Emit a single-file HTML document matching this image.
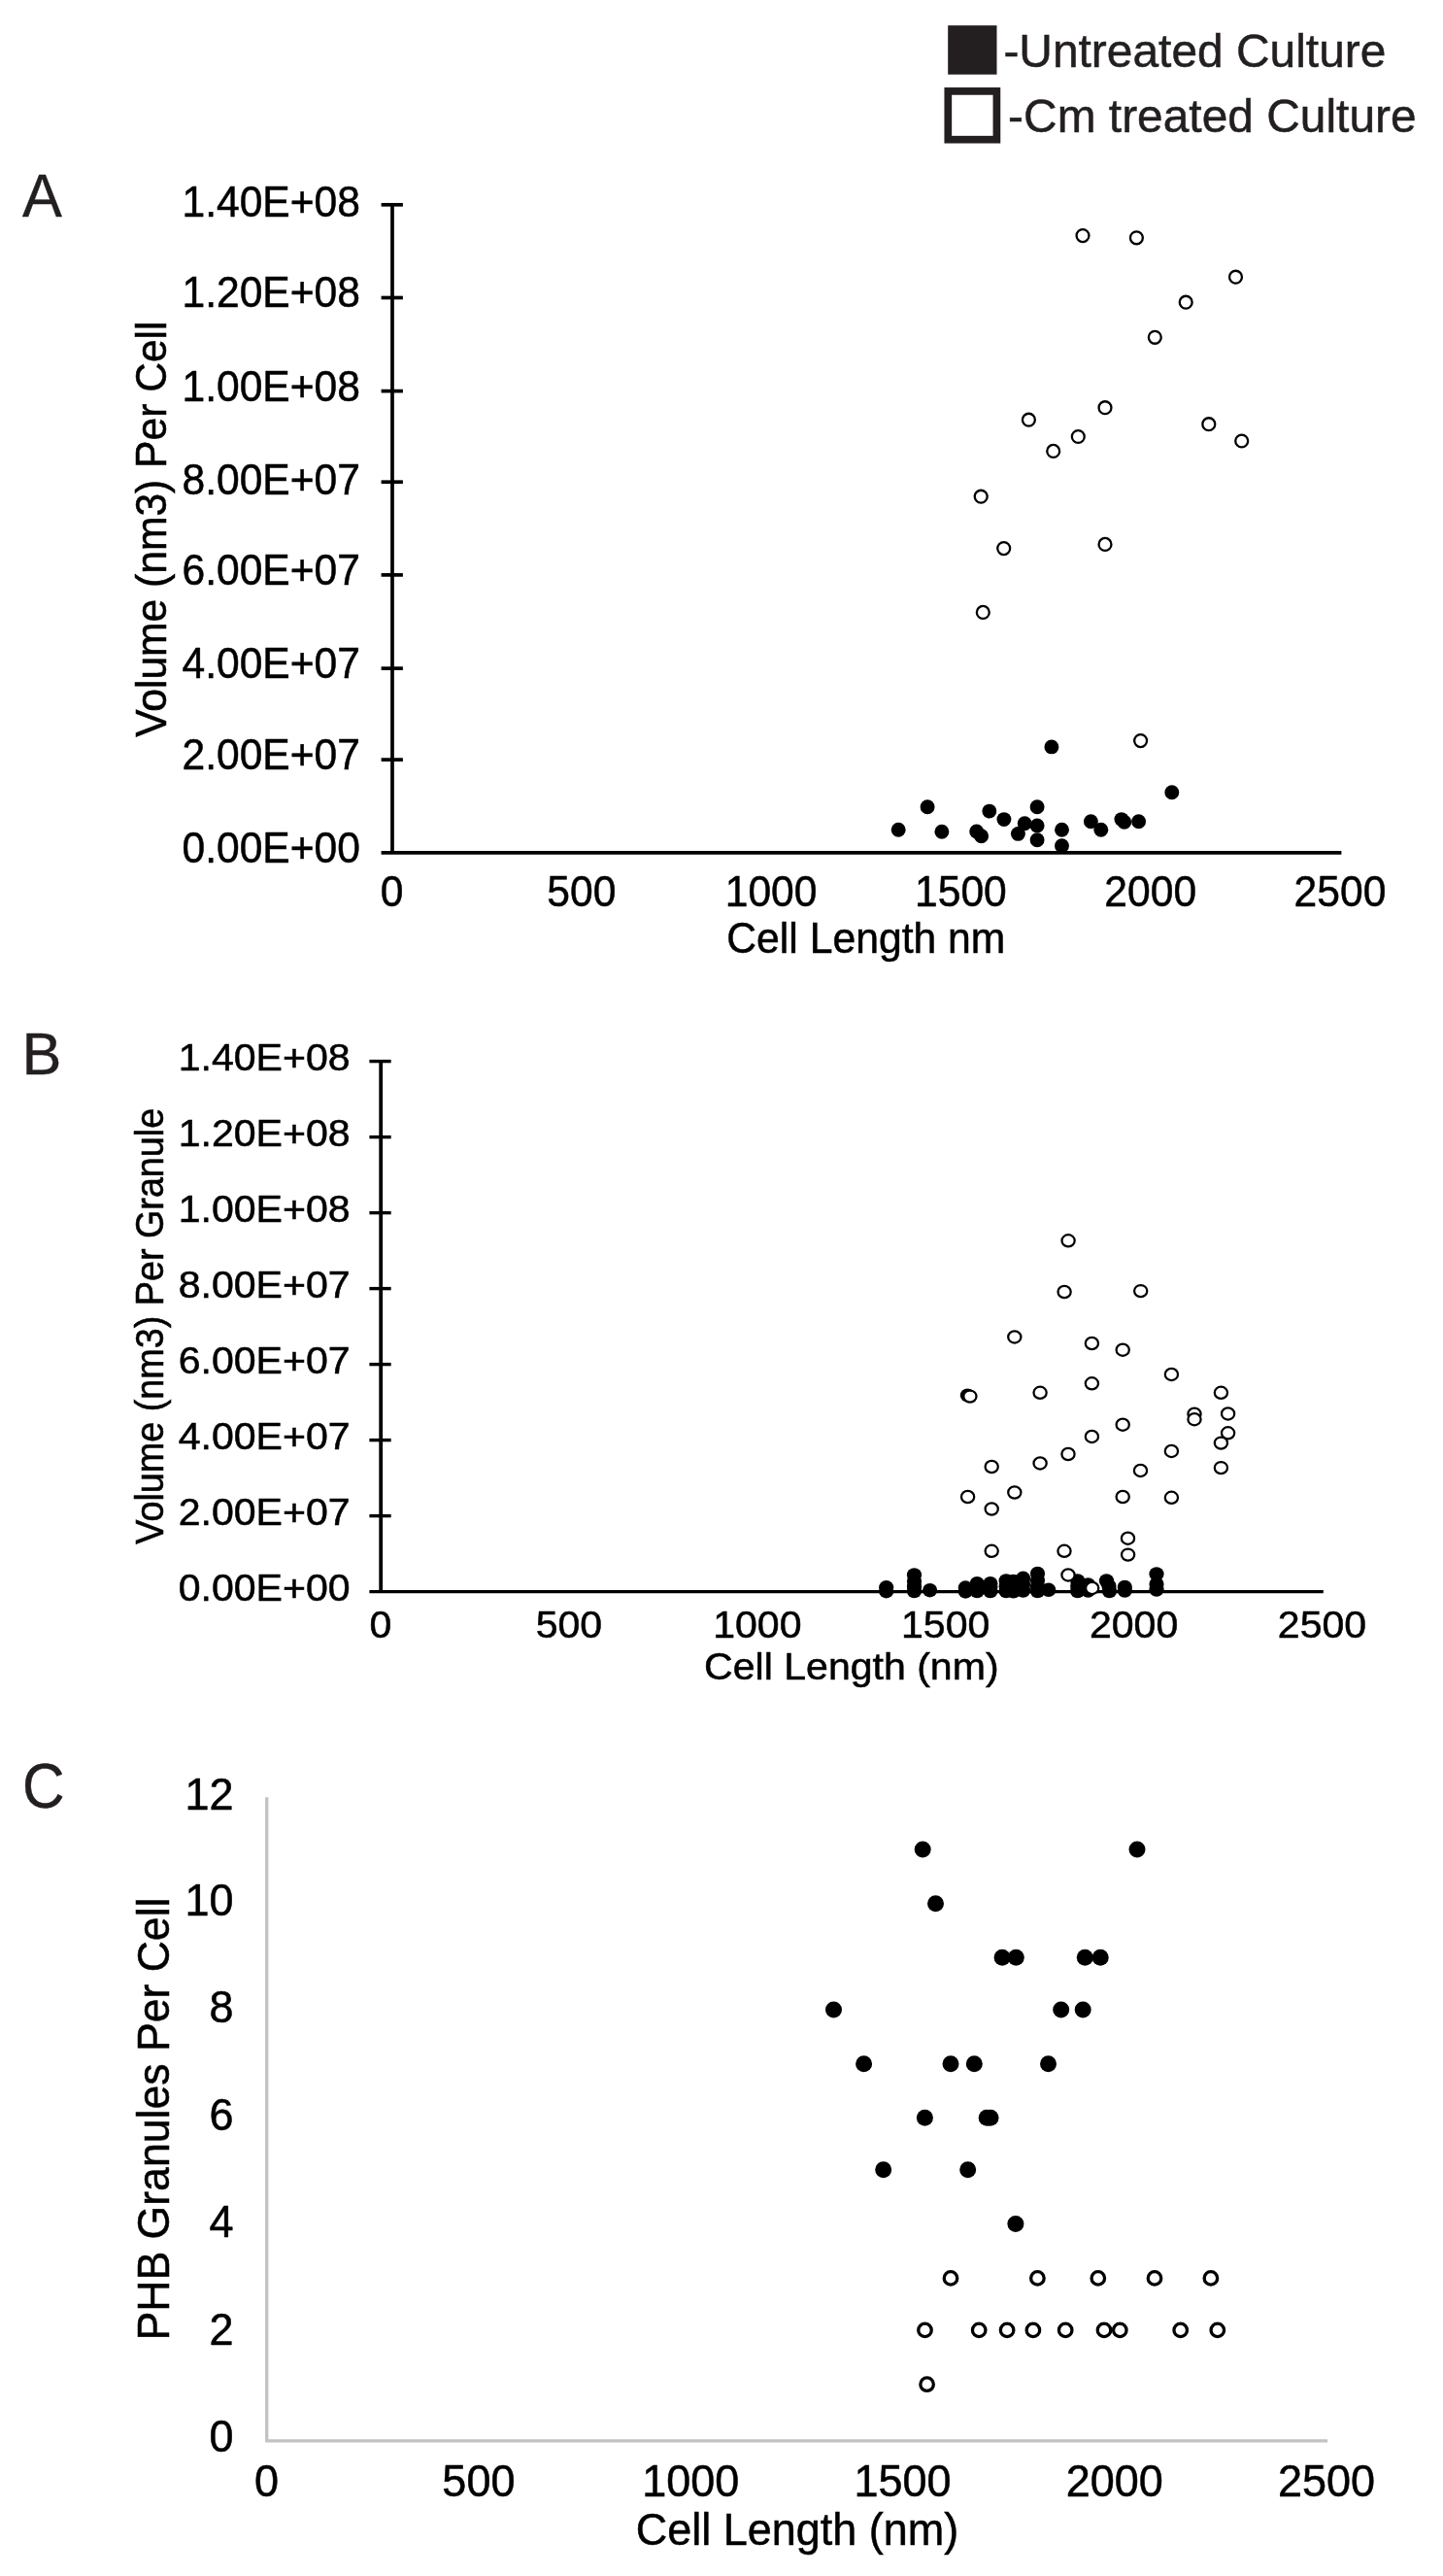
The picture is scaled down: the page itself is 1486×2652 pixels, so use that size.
<!DOCTYPE html>
<html><head><meta charset="utf-8"><title>Figure</title>
<style>
html,body{margin:0;padding:0;background:#fff;}
svg{display:block;will-change:transform;}
text{font-family:"Liberation Sans", sans-serif;white-space:pre;}
</style></head>
<body>
<svg width="1486" height="2652" viewBox="0 0 1486 2652">
<rect x="0" y="0" width="1486" height="2652" fill="#fff"/>
<rect x="976.2" y="26.2" width="50.3" height="50.5" fill="#231f20"/>
<rect x="976.3" y="93.9" width="50.1" height="49.8" fill="#fff" stroke="#231f20" stroke-width="7.7"/>
<text x="1033.4" y="68.6" font-size="47.9" fill="#231f20" stroke="#231f20" stroke-width="0.5">-Untreated Culture</text>
<text x="1038.1" y="135.5" font-size="47.9" fill="#231f20" stroke="#231f20" stroke-width="0.5">-Cm treated Culture</text>
<text transform="translate(23.1,222.7) scale(1,1.02)" font-size="61.3" fill="#231f20" stroke="#231f20" stroke-width="0.4">A</text>
<text transform="translate(22.4,1105.6) scale(1.0,1)" font-size="61.3" fill="#231f20" stroke="#231f20" stroke-width="0.4">B</text>
<text transform="translate(23.0,1860.6) scale(0.965,1.03)" font-size="62.5" fill="#231f20" stroke="#231f20" stroke-width="0.4">C</text>
<g stroke="#000" stroke-width="3.7" fill="none">
<line x1="404.0" y1="208.95000000000002" x2="404.0" y2="877.9"/>
<line x1="392.6" y1="877.9" x2="1381.4" y2="877.9"/>
<line x1="392.6" y1="782.1" x2="414.9" y2="782.1"/>
<line x1="392.6" y1="688.1" x2="414.9" y2="688.1"/>
<line x1="392.6" y1="591.9" x2="414.9" y2="591.9"/>
<line x1="392.6" y1="496.2" x2="414.9" y2="496.2"/>
<line x1="392.6" y1="402.6" x2="414.9" y2="402.6"/>
<line x1="392.6" y1="306.5" x2="414.9" y2="306.5"/>
<line x1="392.6" y1="210.8" x2="414.9" y2="210.8"/>
</g>
<text transform="translate(371.0,888.0) scale(1.0,1.03)" font-size="42.6" text-anchor="end" fill="#000" stroke="#000" stroke-width="0.5">0.00E+00</text>
<text transform="translate(371.0,791.9) scale(1.0,1.03)" font-size="42.6" text-anchor="end" fill="#000" stroke="#000" stroke-width="0.5">2.00E+07</text>
<text transform="translate(371.0,698.2) scale(1.0,1.03)" font-size="42.6" text-anchor="end" fill="#000" stroke="#000" stroke-width="0.5">4.00E+07</text>
<text transform="translate(371.0,602.4) scale(1.0,1.03)" font-size="42.6" text-anchor="end" fill="#000" stroke="#000" stroke-width="0.5">6.00E+07</text>
<text transform="translate(371.0,508.5) scale(1.0,1.03)" font-size="42.6" text-anchor="end" fill="#000" stroke="#000" stroke-width="0.5">8.00E+07</text>
<text transform="translate(371.0,412.5) scale(1.0,1.03)" font-size="42.6" text-anchor="end" fill="#000" stroke="#000" stroke-width="0.5">1.00E+08</text>
<text transform="translate(371.0,316.3) scale(1.0,1.03)" font-size="42.6" text-anchor="end" fill="#000" stroke="#000" stroke-width="0.5">1.20E+08</text>
<text transform="translate(371.0,222.6) scale(1.0,1.03)" font-size="42.6" text-anchor="end" fill="#000" stroke="#000" stroke-width="0.5">1.40E+08</text>
<text transform="translate(403.5,932.6) scale(1.0,1.03)" font-size="42.6" text-anchor="middle" fill="#000" stroke="#000" stroke-width="0.5">0</text>
<text transform="translate(598.8,932.6) scale(1.0,1.03)" font-size="42.6" text-anchor="middle" fill="#000" stroke="#000" stroke-width="0.5">500</text>
<text transform="translate(794.1,932.6) scale(1.0,1.03)" font-size="42.6" text-anchor="middle" fill="#000" stroke="#000" stroke-width="0.5">1000</text>
<text transform="translate(989.4,932.6) scale(1.0,1.03)" font-size="42.6" text-anchor="middle" fill="#000" stroke="#000" stroke-width="0.5">1500</text>
<text transform="translate(1184.7,932.6) scale(1.0,1.03)" font-size="42.6" text-anchor="middle" fill="#000" stroke="#000" stroke-width="0.5">2000</text>
<text transform="translate(1380.0,932.6) scale(1.0,1.03)" font-size="42.6" text-anchor="middle" fill="#000" stroke="#000" stroke-width="0.5">2500</text>
<text transform="translate(748.3,980.9) scale(1.0,1.03)" font-size="42.7" text-anchor="start" fill="#000" stroke="#000" stroke-width="0.5">Cell Length nm</text>
<text transform="translate(170.9,758.8) rotate(-90) scale(1.0,1.05)" font-size="42.6" text-anchor="start" fill="#000" stroke="#000" stroke-width="0.5">Volume (nm3) Per Cell</text>
<g fill="#fff" stroke="#000" stroke-width="2.3">
<circle cx="1115.0" cy="242.6" r="6.45"/>
<circle cx="1170.4" cy="244.8" r="6.45"/>
<circle cx="1272.5" cy="285.2" r="6.45"/>
<circle cx="1221.2" cy="311.2" r="6.45"/>
<circle cx="1189.3" cy="347.3" r="6.45"/>
<circle cx="1138.0" cy="419.7" r="6.45"/>
<circle cx="1059.4" cy="432.2" r="6.45"/>
<circle cx="1244.8" cy="436.7" r="6.45"/>
<circle cx="1110.3" cy="449.5" r="6.45"/>
<circle cx="1278.7" cy="454.0" r="6.45"/>
<circle cx="1084.7" cy="464.4" r="6.45"/>
<circle cx="1010.2" cy="511.2" r="6.45"/>
<circle cx="1033.7" cy="564.6" r="6.45"/>
<circle cx="1138.0" cy="560.4" r="6.45"/>
<circle cx="1012.3" cy="630.4" r="6.45"/>
<circle cx="1174.6" cy="762.6" r="6.45"/>
</g><g fill="#000">
<circle cx="1082.9" cy="768.9" r="7.45"/>
<circle cx="1206.8" cy="815.7" r="7.45"/>
<circle cx="955.1" cy="830.8" r="7.45"/>
<circle cx="1068.1" cy="830.8" r="7.45"/>
<circle cx="1018.8" cy="835.1" r="7.45"/>
<circle cx="1033.9" cy="843.6" r="7.45"/>
<circle cx="1055.2" cy="847.7" r="7.45"/>
<circle cx="1068.1" cy="849.9" r="7.45"/>
<circle cx="1123.4" cy="845.8" r="7.45"/>
<circle cx="1154.9" cy="843.6" r="7.45"/>
<circle cx="1157.8" cy="846.3" r="7.45"/>
<circle cx="1172.6" cy="845.8" r="7.45"/>
<circle cx="925.2" cy="854.3" r="7.45"/>
<circle cx="969.9" cy="856.2" r="7.45"/>
<circle cx="1005.7" cy="856.0" r="7.45"/>
<circle cx="1010.6" cy="860.8" r="7.45"/>
<circle cx="1048.4" cy="858.4" r="7.45"/>
<circle cx="1093.5" cy="854.3" r="7.45"/>
<circle cx="1133.8" cy="854.3" r="7.45"/>
<circle cx="1068.1" cy="864.7" r="7.45"/>
<circle cx="1093.5" cy="870.8" r="7.45"/>
</g>
<g stroke="#000" stroke-width="3.4" fill="none">
<line x1="392.2" y1="1091.1" x2="392.2" y2="1638.6" stroke-width="3.8"/>
<line x1="380.4" y1="1638.6" x2="1362.8" y2="1638.6"/>
<line x1="380.4" y1="1560.6" x2="402.7" y2="1560.6"/>
<line x1="380.4" y1="1482.6" x2="402.7" y2="1482.6"/>
<line x1="380.4" y1="1404.6" x2="402.7" y2="1404.6"/>
<line x1="380.4" y1="1326.6" x2="402.7" y2="1326.6"/>
<line x1="380.4" y1="1248.6" x2="402.7" y2="1248.6"/>
<line x1="380.4" y1="1170.6" x2="402.7" y2="1170.6"/>
<line x1="380.4" y1="1092.6" x2="402.7" y2="1092.6"/>
</g>
<text transform="translate(360.6,1647.6) scale(1.095,1.02)" font-size="37.5" text-anchor="end" fill="#000" stroke="#000" stroke-width="0.5">0.00E+00</text>
<text transform="translate(360.6,1569.6) scale(1.095,1.02)" font-size="37.5" text-anchor="end" fill="#000" stroke="#000" stroke-width="0.5">2.00E+07</text>
<text transform="translate(360.6,1491.6) scale(1.095,1.02)" font-size="37.5" text-anchor="end" fill="#000" stroke="#000" stroke-width="0.5">4.00E+07</text>
<text transform="translate(360.6,1413.6) scale(1.095,1.02)" font-size="37.5" text-anchor="end" fill="#000" stroke="#000" stroke-width="0.5">6.00E+07</text>
<text transform="translate(360.6,1335.6) scale(1.095,1.02)" font-size="37.5" text-anchor="end" fill="#000" stroke="#000" stroke-width="0.5">8.00E+07</text>
<text transform="translate(360.6,1257.6) scale(1.095,1.02)" font-size="37.5" text-anchor="end" fill="#000" stroke="#000" stroke-width="0.5">1.00E+08</text>
<text transform="translate(360.6,1179.6) scale(1.095,1.02)" font-size="37.5" text-anchor="end" fill="#000" stroke="#000" stroke-width="0.5">1.20E+08</text>
<text transform="translate(360.6,1101.6) scale(1.095,1.02)" font-size="37.5" text-anchor="end" fill="#000" stroke="#000" stroke-width="0.5">1.40E+08</text>
<text transform="translate(392.0,1686.4) scale(1.095,1.02)" font-size="37.5" text-anchor="middle" fill="#000" stroke="#000" stroke-width="0.5">0</text>
<text transform="translate(585.9,1686.4) scale(1.095,1.02)" font-size="37.5" text-anchor="middle" fill="#000" stroke="#000" stroke-width="0.5">500</text>
<text transform="translate(779.8,1686.4) scale(1.095,1.02)" font-size="37.5" text-anchor="middle" fill="#000" stroke="#000" stroke-width="0.5">1000</text>
<text transform="translate(973.7,1686.4) scale(1.095,1.02)" font-size="37.5" text-anchor="middle" fill="#000" stroke="#000" stroke-width="0.5">1500</text>
<text transform="translate(1167.6,1686.4) scale(1.095,1.02)" font-size="37.5" text-anchor="middle" fill="#000" stroke="#000" stroke-width="0.5">2000</text>
<text transform="translate(1361.5,1686.4) scale(1.095,1.02)" font-size="37.5" text-anchor="middle" fill="#000" stroke="#000" stroke-width="0.5">2500</text>
<text transform="translate(725.1,1728.7) scale(1.095,1.02)" font-size="37.5" text-anchor="start" fill="#000" stroke="#000" stroke-width="0.5">Cell Length (nm)</text>
<text transform="translate(167.9,1589.7) rotate(-90) scale(1.0,1.095)" font-size="37.76" text-anchor="start" fill="#000" stroke="#000" stroke-width="0.5">Volume (nm3) Per Granule</text>
<ellipse cx="996.4" cy="1436.5" rx="7.6" ry="7.1" fill="#000"/>
<g fill="#fff" stroke="#000" stroke-width="2.25">
<ellipse cx="1100.1" cy="1277.3" rx="6.6" ry="6.1"/>
<ellipse cx="1096.1" cy="1330.0" rx="6.6" ry="6.1"/>
<ellipse cx="1174.7" cy="1329.1" rx="6.6" ry="6.1"/>
<ellipse cx="1044.8" cy="1376.4" rx="6.6" ry="6.1"/>
<ellipse cx="1124.4" cy="1383.0" rx="6.6" ry="6.1"/>
<ellipse cx="1156.2" cy="1389.7" rx="6.6" ry="6.1"/>
<ellipse cx="1206.4" cy="1414.9" rx="6.6" ry="6.1"/>
<ellipse cx="1124.4" cy="1424.3" rx="6.6" ry="6.1"/>
<ellipse cx="1071.1" cy="1433.8" rx="6.6" ry="6.1"/>
<ellipse cx="1257.4" cy="1433.8" rx="6.6" ry="6.1"/>
<ellipse cx="998.9" cy="1437.6" rx="6.6" ry="6.1"/>
<ellipse cx="1264.6" cy="1455.4" rx="6.6" ry="6.1"/>
<ellipse cx="1230.0" cy="1455.7" rx="6.6" ry="6.1"/>
<ellipse cx="1230.0" cy="1461.2" rx="6.6" ry="6.1"/>
<ellipse cx="1156.2" cy="1466.7" rx="6.6" ry="6.1"/>
<ellipse cx="1264.6" cy="1475.3" rx="6.6" ry="6.1"/>
<ellipse cx="1124.4" cy="1478.9" rx="6.6" ry="6.1"/>
<ellipse cx="1257.4" cy="1485.6" rx="6.6" ry="6.1"/>
<ellipse cx="1206.4" cy="1493.9" rx="6.6" ry="6.1"/>
<ellipse cx="1100.0" cy="1497.0" rx="6.6" ry="6.1"/>
<ellipse cx="1071.1" cy="1506.4" rx="6.6" ry="6.1"/>
<ellipse cx="1021.2" cy="1510.0" rx="6.6" ry="6.1"/>
<ellipse cx="1257.4" cy="1511.1" rx="6.6" ry="6.1"/>
<ellipse cx="1174.5" cy="1513.9" rx="6.6" ry="6.1"/>
<ellipse cx="1044.8" cy="1536.5" rx="6.6" ry="6.1"/>
<ellipse cx="996.6" cy="1541.0" rx="6.6" ry="6.1"/>
<ellipse cx="1156.2" cy="1541.0" rx="6.6" ry="6.1"/>
<ellipse cx="1206.4" cy="1541.8" rx="6.6" ry="6.1"/>
<ellipse cx="1021.2" cy="1553.5" rx="6.6" ry="6.1"/>
<ellipse cx="1161.5" cy="1583.7" rx="6.6" ry="6.1"/>
<ellipse cx="1021.2" cy="1596.8" rx="6.6" ry="6.1"/>
<ellipse cx="1096.0" cy="1596.8" rx="6.6" ry="6.1"/>
<ellipse cx="1161.6" cy="1600.6" rx="6.6" ry="6.1"/>
</g><g fill="#000">
<ellipse cx="912.7" cy="1634.3" rx="7.6" ry="7.25"/>
<ellipse cx="912.7" cy="1638.2" rx="7.6" ry="7.25"/>
<ellipse cx="941.5" cy="1621.5" rx="7.6" ry="7.25"/>
<ellipse cx="941.5" cy="1628.0" rx="7.6" ry="7.25"/>
<ellipse cx="941.5" cy="1633.5" rx="7.6" ry="7.25"/>
<ellipse cx="941.5" cy="1638.0" rx="7.6" ry="7.25"/>
<ellipse cx="957.6" cy="1637.2" rx="7.6" ry="7.25"/>
<ellipse cx="994.3" cy="1634.6" rx="7.6" ry="7.25"/>
<ellipse cx="994.3" cy="1638.4" rx="7.6" ry="7.25"/>
<ellipse cx="1006.2" cy="1630.2" rx="7.6" ry="7.25"/>
<ellipse cx="1006.2" cy="1634.0" rx="7.6" ry="7.25"/>
<ellipse cx="1006.2" cy="1638.0" rx="7.6" ry="7.25"/>
<ellipse cx="1019.9" cy="1630.2" rx="7.6" ry="7.25"/>
<ellipse cx="1019.9" cy="1634.0" rx="7.6" ry="7.25"/>
<ellipse cx="1019.9" cy="1638.0" rx="7.6" ry="7.25"/>
<ellipse cx="1036.1" cy="1627.5" rx="7.6" ry="7.25"/>
<ellipse cx="1036.1" cy="1633.0" rx="7.6" ry="7.25"/>
<ellipse cx="1036.1" cy="1638.0" rx="7.6" ry="7.25"/>
<ellipse cx="1043.6" cy="1628.0" rx="7.6" ry="7.25"/>
<ellipse cx="1043.6" cy="1634.0" rx="7.6" ry="7.25"/>
<ellipse cx="1043.6" cy="1638.3" rx="7.6" ry="7.25"/>
<ellipse cx="1053.6" cy="1624.8" rx="7.6" ry="7.25"/>
<ellipse cx="1053.6" cy="1631.0" rx="7.6" ry="7.25"/>
<ellipse cx="1053.6" cy="1637.5" rx="7.6" ry="7.25"/>
<ellipse cx="1068.5" cy="1620.0" rx="7.6" ry="7.25"/>
<ellipse cx="1068.5" cy="1627.0" rx="7.6" ry="7.25"/>
<ellipse cx="1068.5" cy="1633.5" rx="7.6" ry="7.25"/>
<ellipse cx="1068.5" cy="1638.0" rx="7.6" ry="7.25"/>
<ellipse cx="1079.8" cy="1636.8" rx="7.6" ry="7.25"/>
<ellipse cx="1109.7" cy="1627.5" rx="7.6" ry="7.25"/>
<ellipse cx="1109.7" cy="1633.0" rx="7.6" ry="7.25"/>
<ellipse cx="1109.7" cy="1638.0" rx="7.6" ry="7.25"/>
<ellipse cx="1120.5" cy="1631.5" rx="7.6" ry="7.25"/>
<ellipse cx="1120.5" cy="1637.5" rx="7.6" ry="7.25"/>
<ellipse cx="1139.5" cy="1627.5" rx="7.6" ry="7.25"/>
<ellipse cx="1142.0" cy="1633.0" rx="7.6" ry="7.25"/>
<ellipse cx="1142.5" cy="1638.0" rx="7.6" ry="7.25"/>
<ellipse cx="1158.3" cy="1634.0" rx="7.6" ry="7.25"/>
<ellipse cx="1158.3" cy="1637.6" rx="7.6" ry="7.25"/>
<ellipse cx="1191.0" cy="1620.5" rx="7.6" ry="7.25"/>
<ellipse cx="1191.0" cy="1631.0" rx="7.6" ry="7.25"/>
<ellipse cx="1191.0" cy="1636.5" rx="7.6" ry="7.25"/>
</g><g fill="#fff" stroke="#000" stroke-width="2.25">
<ellipse cx="1100.0" cy="1621.4" rx="6.6" ry="6.1"/>
<ellipse cx="1124.7" cy="1634.9" rx="6.6" ry="6.1"/>
</g>
<path d="M274.75 1850.2 V2512.8 H1367.1" stroke="#c3c2c2" stroke-width="3.3" fill="none"/>
<text transform="translate(240.6,2523.7) scale(1.0,1.03)" font-size="45" text-anchor="end" fill="#000" stroke="#000" stroke-width="0.5">0</text>
<text transform="translate(240.6,2413.8) scale(1.0,1.03)" font-size="45" text-anchor="end" fill="#000" stroke="#000" stroke-width="0.5">2</text>
<text transform="translate(240.6,2302.6) scale(1.0,1.03)" font-size="45" text-anchor="end" fill="#000" stroke="#000" stroke-width="0.5">4</text>
<text transform="translate(240.6,2192.6) scale(1.0,1.03)" font-size="45" text-anchor="end" fill="#000" stroke="#000" stroke-width="0.5">6</text>
<text transform="translate(240.6,2082.0) scale(1.0,1.03)" font-size="45" text-anchor="end" fill="#000" stroke="#000" stroke-width="0.5">8</text>
<text transform="translate(240.6,1972.4) scale(1.0,1.03)" font-size="45" text-anchor="end" fill="#000" stroke="#000" stroke-width="0.5">10</text>
<text transform="translate(240.6,1862.7) scale(1.0,1.03)" font-size="45" text-anchor="end" fill="#000" stroke="#000" stroke-width="0.5">12</text>
<text transform="translate(274.6,2569.6) scale(1.0,1.03)" font-size="45" text-anchor="middle" fill="#000" stroke="#000" stroke-width="0.5">0</text>
<text transform="translate(492.9,2569.6) scale(1.0,1.03)" font-size="45" text-anchor="middle" fill="#000" stroke="#000" stroke-width="0.5">500</text>
<text transform="translate(711.2,2569.6) scale(1.0,1.03)" font-size="45" text-anchor="middle" fill="#000" stroke="#000" stroke-width="0.5">1000</text>
<text transform="translate(929.5,2569.6) scale(1.0,1.03)" font-size="45" text-anchor="middle" fill="#000" stroke="#000" stroke-width="0.5">1500</text>
<text transform="translate(1147.8,2569.6) scale(1.0,1.03)" font-size="45" text-anchor="middle" fill="#000" stroke="#000" stroke-width="0.5">2000</text>
<text transform="translate(1366.1,2569.6) scale(1.0,1.03)" font-size="45" text-anchor="middle" fill="#000" stroke="#000" stroke-width="0.5">2500</text>
<text transform="translate(654.8,2619.9) scale(1.0,1.03)" font-size="45" text-anchor="start" fill="#000" stroke="#000" stroke-width="0.5">Cell Length (nm)</text>
<text transform="translate(174.2,2409.5) rotate(-90) scale(1.0,1.05)" font-size="44.6" text-anchor="start" fill="#000" stroke="#000" stroke-width="0.5">PHB Granules Per Cell</text>
<g fill="#000">
<circle cx="950.2" cy="1903.9" r="8.5"/>
<circle cx="1171.0" cy="1904.0" r="8.5"/>
<circle cx="963.5" cy="1959.8" r="8.5"/>
<circle cx="1032.1" cy="2015.2" r="8.5"/>
<circle cx="1046.3" cy="2015.2" r="8.5"/>
<circle cx="1117.3" cy="2015.2" r="8.5"/>
<circle cx="1133.2" cy="2015.2" r="8.5"/>
<circle cx="858.5" cy="2068.9" r="8.5"/>
<circle cx="1092.7" cy="2068.9" r="8.5"/>
<circle cx="1115.2" cy="2068.9" r="8.5"/>
<circle cx="889.6" cy="2124.7" r="8.5"/>
<circle cx="979.0" cy="2124.7" r="8.5"/>
<circle cx="1003.3" cy="2124.7" r="8.5"/>
<circle cx="1079.5" cy="2124.7" r="8.5"/>
<circle cx="952.4" cy="2180.3" r="8.5"/>
<circle cx="1016.2" cy="2180.3" r="8.5"/>
<circle cx="1020.0" cy="2180.3" r="8.5"/>
<circle cx="909.7" cy="2233.8" r="8.5"/>
<circle cx="996.7" cy="2233.8" r="8.5"/>
<circle cx="1045.9" cy="2289.6" r="8.5"/>
</g><g fill="#fff" stroke="#000" stroke-width="3.3">
<circle cx="979.0" cy="2345.4" r="6.75"/>
<circle cx="1068.4" cy="2345.4" r="6.75"/>
<circle cx="1130.8" cy="2345.4" r="6.75"/>
<circle cx="1189.0" cy="2345.4" r="6.75"/>
<circle cx="1246.9" cy="2345.4" r="6.75"/>
<circle cx="952.5" cy="2398.9" r="6.75"/>
<circle cx="1008.2" cy="2398.9" r="6.75"/>
<circle cx="1037.1" cy="2398.9" r="6.75"/>
<circle cx="1063.9" cy="2398.9" r="6.75"/>
<circle cx="1097.2" cy="2398.9" r="6.75"/>
<circle cx="1137.0" cy="2398.9" r="6.75"/>
<circle cx="1153.3" cy="2398.9" r="6.75"/>
<circle cx="1215.7" cy="2398.9" r="6.75"/>
<circle cx="1253.8" cy="2398.9" r="6.75"/>
<circle cx="954.6" cy="2454.7" r="6.75"/>
</g>
</svg>
</body></html>
